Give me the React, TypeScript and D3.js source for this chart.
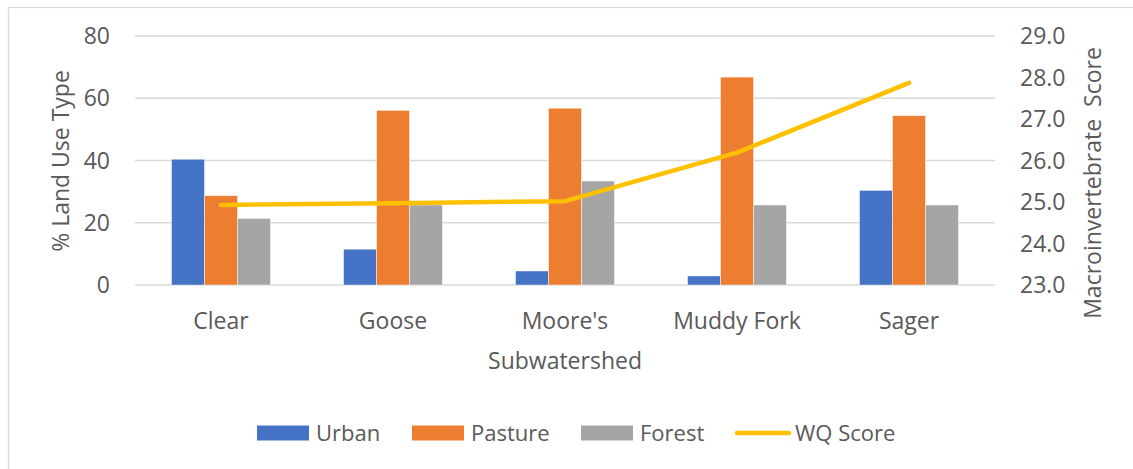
import * as d3 from "d3";

const categories = ["Clear", "Goose", "Moore's", "Muddy Fork", "Sager"];
const urban = [40.4, 11.5, 4.5, 2.9, 30.4];
const pasture = [28.7, 56.1, 56.8, 66.8, 54.4];
const forest = [21.4, 25.7, 33.4, 25.7, 25.7];
const wqScore = [24.93, 24.97, 25.02, 26.19, 27.87];
const leftTicks = [0, 20, 40, 60, 80];
const rightTicks = [23, 24, 25, 26, 27, 28, 29];

const barSeries = [
  { name: "Urban", values: urban, color: "#4472C4" },
  { name: "Pasture", values: pasture, color: "#ED7D31" },
  { name: "Forest", values: forest, color: "#A5A5A5" },
];

const W = 1133;
const H = 469;
const font = "'Open Sans', sans-serif";
const textColor = "#595959";
const fs = 23;

const App = () => {
  const x = d3.scaleBand<string>().domain(categories).range([135, 995]);
  const yL = d3.scaleLinear().domain([0, 80]).range([285, 36]);
  const yR = d3.scaleLinear().domain([23, 29]).range([285, 36]);
  const groupW = x.bandwidth() * 0.575;
  const inner = d3
    .scaleBand<string>()
    .domain(barSeries.map((s) => s.name))
    .range([(x.bandwidth() - groupW) / 2, (x.bandwidth() + groupW) / 2]);

  const line = d3
    .line<number>()
    .x((_, i) => x(categories[i])! + x.bandwidth() / 2)
    .y((d) => yR(d));

  const legend = [
    { name: "Urban", color: "#4472C4", x: 257, type: "rect" },
    { name: "Pasture", color: "#ED7D31", x: 412, type: "rect" },
    { name: "Forest", color: "#A5A5A5", x: 581, type: "rect" },
    { name: "WQ Score", color: "#FFC000", x: 735, type: "line" },
  ];

  return (
    <svg
      width={W}
      height={H}
      style={{ position: "absolute", left: 0, top: 0, background: "#fff" }}
      fontFamily={font}
    >
      <rect x={8.5} y={7.5} width={W + 10} height={H + 10} fill="none" stroke="#D9D9D9" strokeWidth={1.25} />

      {leftTicks.map((t) => (
        <g key={t}>
          <line x1={135} x2={995} y1={yL(t)} y2={yL(t)} stroke="#D9D9D9" strokeWidth={1.5} />
          <text x={110} y={yL(t)} dy="0.35em" textAnchor="end" fontSize={fs} fill={textColor}>
            {t}
          </text>
        </g>
      ))}

      {rightTicks.map((t) => (
        <text key={t} x={1020} y={yR(t)} dy="0.35em" textAnchor="start" fontSize={fs} fill={textColor}>
          {d3.format(".1f")(t)}
        </text>
      ))}

      {categories.map((c, i) => (
        <g key={c} transform={`translate(${x(c)},0)`}>
          {barSeries.map((s) => (
            <rect
              key={s.name}
              x={inner(s.name)}
              y={yL(s.values[i])}
              width={inner.bandwidth()}
              height={yL(0) - yL(s.values[i])}
              fill={s.color}
              stroke="#fff"
              strokeOpacity={0.6}
              strokeWidth={0.75}
            />
          ))}
          <text x={x.bandwidth() / 2} y={321} dy="0.35em" textAnchor="middle" fontSize={fs} fill={textColor}>
            {c}
          </text>
        </g>
      ))}

      <path
        d={line(wqScore) ?? ""}
        fill="none"
        stroke="#FFC000"
        strokeWidth={4.5}
        strokeLinecap="round"
        strokeLinejoin="round"
      />

      <text x={565} y={361} dy="0.35em" textAnchor="middle" fontSize={fs} fill={textColor}>
        Subwatershed
      </text>
      <text
        transform={`translate(61,161) rotate(-90)`}
        dy="0.35em"
        textAnchor="middle"
        fontSize={fs}
        fill={textColor}
      >
        % Land Use Type
      </text>
      <text
        transform={`translate(1093,183) rotate(-90)`}
        dy="0.35em"
        textAnchor="middle"
        fontSize={fs}
        fill={textColor}
        style={{ whiteSpace: "pre" }}
      >
        {"Macroinvertebrate  Score"}
      </text>

      {legend.map((l) => (
        <g key={l.name} transform={`translate(${l.x},433)`}>
          {l.type === "rect" ? (
            <rect x={0} y={-7.5} width={52} height={15} fill={l.color} />
          ) : (
            <line x1={2} x2={54} y1={0} y2={0} stroke={l.color} strokeWidth={4.5} strokeLinecap="round" />
          )}
          <text x={l.type === "rect" ? 59 : 60} y={0} dy="0.35em" fontSize={22} fill={textColor}>
            {l.name}
          </text>
        </g>
      ))}
    </svg>
  );
};

export default App;
